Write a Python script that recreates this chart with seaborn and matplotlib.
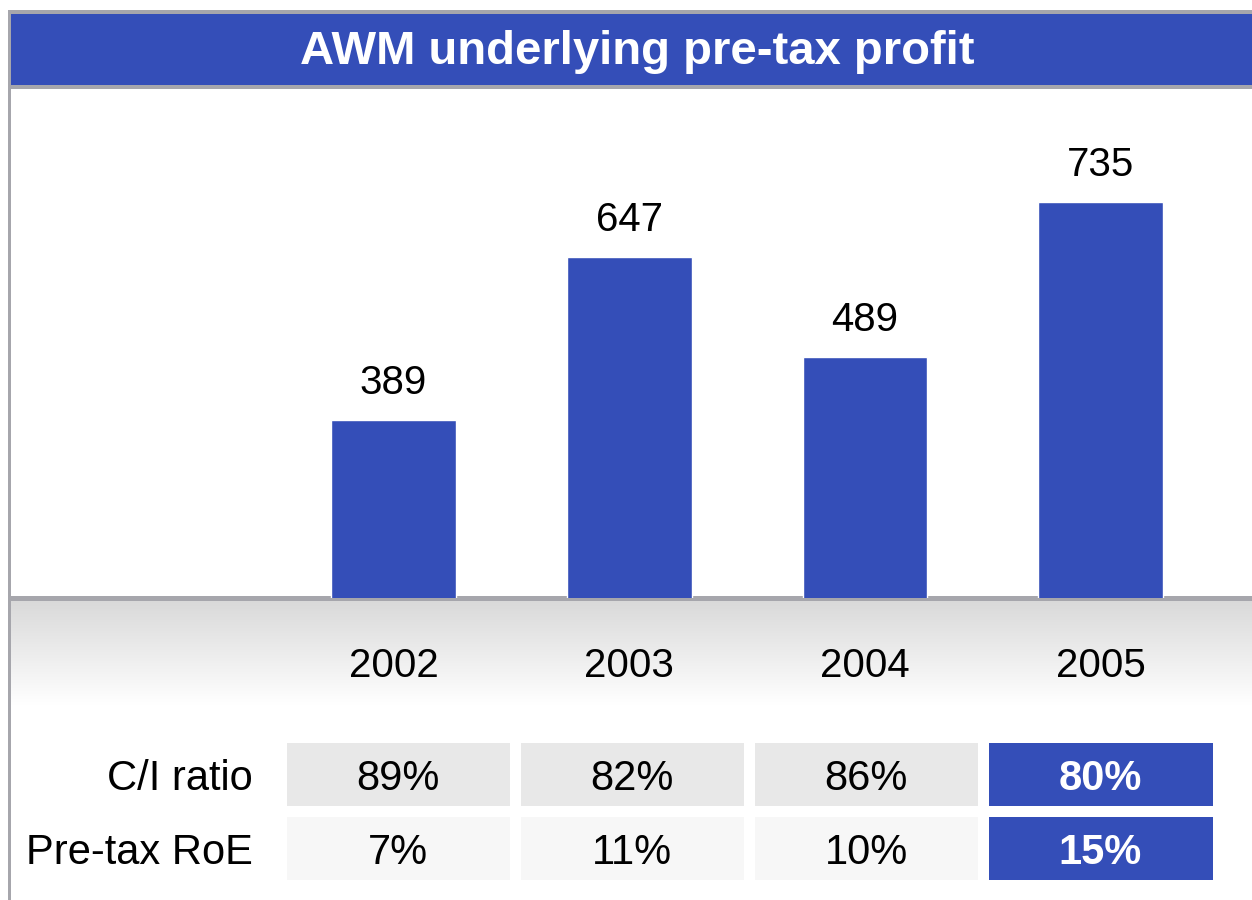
import numpy as np
import matplotlib
matplotlib.use("Agg")
import matplotlib.pyplot as plt
import seaborn as sns
from matplotlib.colors import ListedColormap, LinearSegmentedColormap
from matplotlib.patches import Rectangle

# data
title = "AWM underlying pre-tax profit"
years = ["2002", "2003", "2004", "2005"]
profit = [389, 647, 489, 735]
row_labels = ["C/I ratio", "Pre-tax RoE"]
ci_ratio = ["89%", "82%", "86%", "80%"]
pretax_roe = ["7%", "11%", "10%", "15%"]

blue = "#344EB8"
gray = "#A6A6AC"

sns.set_style("white")
plt.rcParams["font.family"] = ["Liberation Sans", "DejaVu Sans"]
plt.rcParams["text.color"] = "black"
plt.rcParams["xtick.color"] = "black"
plt.rcParams["ytick.color"] = "black"

W, H = 1252, 900
fig = plt.figure(figsize=(12.52, 9), dpi=100)


def frame(x0, y0, x1, y1):
    # pixel box -> figure fraction
    return [x0 / W, 1 - y1 / H, (x1 - x0) / W, (y1 - y0) / H]


# background decorations (pixel coordinates)
bg = fig.add_axes([0, 0, 1, 1])
fade = LinearSegmentedColormap.from_list("fade", ["#D9D9D9", "#FFFFFF"])
bg.imshow(np.linspace(0, 1, 200)[:, None], extent=[11, W, 705, 600],
          origin="upper", cmap=fade, aspect="auto")
bg.add_patch(Rectangle((8, 10), W, 4, color=gray, lw=0))
bg.add_patch(Rectangle((8, 10), 3, H, color=gray, lw=0))
bg.add_patch(Rectangle((11, 14), W, 71, color=blue, lw=0))
bg.add_patch(Rectangle((11, 85), W, 4, color=gray, lw=0))
bg.add_patch(Rectangle((11, 596), W, 5, color=gray, lw=0))
bg.text(637, 52, title, color="white", fontsize=34, fontweight="bold",
        ha="center", va="center")
bg.set_xlim(0, W)
bg.set_ylim(H, 0)
bg.axis("off")

# bars
ax = fig.add_axes(frame(11, 89, W, 598))
ax.patch.set_alpha(0)
sns.barplot(x=years, y=profit, color=blue, saturation=1, width=0.53, ax=ax)
ax.bar_label(ax.containers[0], padding=13, fontsize=29, color="black")
ax.set_xlim(-1.623, 3.642)
ax.set_ylim(106, 914)
ax.set_yticks([])
ax.set_xlabel("")
ax.set_ylabel("")
ax.tick_params(axis="x", length=0, pad=35, labelsize=29)
sns.despine(ax=ax, left=True, bottom=True)

# table under the chart
tax = fig.add_axes(frame(280.5, 737, 1217.5, 885))
codes = np.array([[0, 0, 0, 2], [1, 1, 1, 2]])
annot = np.array([ci_ratio, pretax_roe])
sns.heatmap(codes, annot=annot, fmt="", cbar=False, vmin=0, vmax=2,
            cmap=ListedColormap(["#E8E8E8", "#F7F7F7", blue]),
            linewidths=6.5, linecolor="white",
            xticklabels=False, yticklabels=row_labels,
            annot_kws={"fontsize": 30, "color": "black",
                       "va": "center_baseline"}, ax=tax)
for i, t in enumerate(tax.texts):
    if i % 4 == 3:
        t.set_color("white")
        t.set_fontweight("bold")
tax.tick_params(axis="y", length=0, pad=20, labelsize=30, rotation=0)
for lab in tax.get_yticklabels():
    lab.set_ha("right")
    lab.set_va("center_baseline")

fig.savefig("out.png", dpi=100)
